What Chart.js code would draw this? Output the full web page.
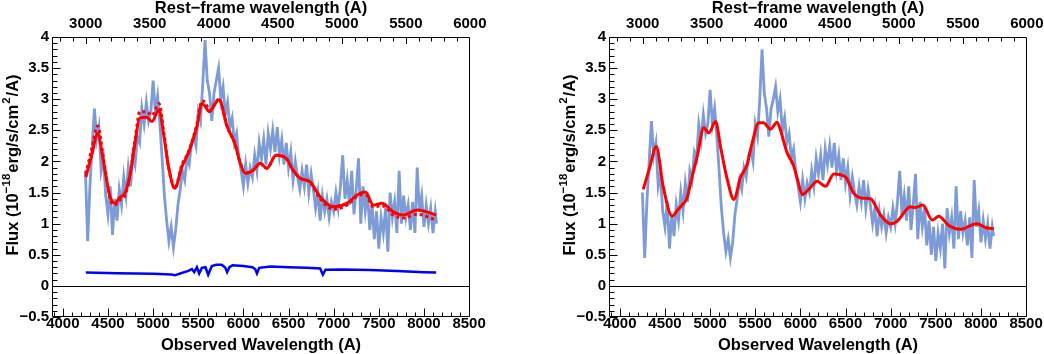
<!DOCTYPE html>
<html>
<head>
<meta charset="utf-8">
<script src="https://cdn.jsdelivr.net/npm/chart.js@4.4.1/dist/chart.umd.min.js"></script>
<style>
  html, body { margin: 0; padding: 0; background: #fff; }
  body { width: 1044px; height: 354px; position: relative; overflow: hidden; }
  canvas { position: absolute; top: 0; }
  #left { left: 0; }
  #right { left: 557px; }
</style>
</head>
<body>
<canvas id="left" width="500" height="354"></canvas>
<canvas id="right" width="500" height="354"></canvas>
<script>
// --- Data ---
const X_TICKS = [4000, 4500, 5000, 5500, 6000, 6500, 7000, 7500, 8000, 8500];
const REST_TICKS = [3000, 3500, 4000, 4500, 5000, 5500, 6000];
const Y_TICKS = [-0.5, 0, 0.5, 1, 1.5, 2, 2.5, 3, 3.5, 4];

const WAVE = [
  4250, 4275,
  4300, 4325, 4350, 4375, 4400, 4425, 4450, 4475, 4500, 4525, 4550, 4575,
  4600, 4625, 4650, 4675, 4700, 4725, 4750, 4775, 4800, 4825, 4850, 4875,
  4900, 4925, 4950, 4975, 5000, 5025, 5050, 5075, 5100, 5125, 5150, 5175,
  5200, 5225, 5250, 5275, 5300, 5325, 5350, 5375, 5400, 5425, 5450, 5475,
  5500, 5525, 5550, 5575, 5600, 5625, 5650, 5675, 5700, 5725, 5750, 5775,
  5800, 5825, 5850, 5875, 5900, 5925, 5950, 5975, 6000, 6025, 6050, 6075,
  6100, 6125, 6150, 6175, 6200, 6225, 6250, 6275, 6300, 6325, 6350, 6375,
  6400, 6425, 6450, 6475, 6500, 6525, 6550, 6575, 6600, 6625, 6650, 6675,
  6700, 6725, 6750, 6775, 6800, 6825, 6850, 6875, 6900, 6925, 6950, 6975,
  7000, 7025, 7050, 7075, 7100, 7125, 7150, 7175, 7200, 7225, 7250, 7275,
  7300, 7325, 7350, 7375, 7400, 7425, 7450, 7475, 7500, 7525, 7550, 7575,
  7600, 7625, 7650, 7675, 7700, 7725, 7750, 7775, 7800, 7825, 7850, 7875,
  7900, 7925, 7950, 7975, 8000, 8025, 8050, 8075, 8100, 8125, 8140
];

// observed spectrum (left panel)
const FLUX_OBS = [
  1.85, 0.72,
  1.6, 2.25, 2.85, 2.35, 2.55, 1.85, 2.05, 1.45, 1.15, 1.6, 0.82, 1.4,
  1.05, 1.55, 1.3, 1.75, 1.45, 1.9, 1.6, 2.1, 1.95, 2.4, 2.3, 2.85,
  2.6, 2.95, 2.65, 2.8, 3.3, 2.8, 3.05, 2.6, 2.05, 1.45, 1.05, 0.72,
  0.95, 0.62, 0.9, 1.3, 1.55, 1.85, 1.7, 2.05, 1.95, 2.3, 2.4, 2.25,
  2.8, 2.65, 3.25, 3.95, 3.3, 3.1, 2.65, 3.1, 3.3, 3.5, 3.0, 3.2,
  2.75, 2.95, 2.55, 2.7, 2.3, 2.45, 2.05, 1.85, 1.6, 1.95, 1.65, 1.9,
  1.75, 2.1, 1.85, 2.3, 2.05, 2.35, 1.95, 2.45, 2.2, 2.5, 2.15, 2.55,
  2.1, 2.35, 1.95, 2.3, 1.9, 2.15, 1.7, 2.0, 1.75, 1.55, 1.85, 1.6,
  1.95, 1.5, 1.8, 1.55, 1.25, 1.5, 1.05, 1.45, 1.2, 1.4, 1.1, 1.35,
  1.2, 1.5, 1.25, 1.6, 2.1, 1.4, 1.7, 1.3, 1.85, 1.15, 1.55, 2.05,
  1.0, 1.6, 1.2, 1.5, 0.9, 1.3, 0.75, 1.2, 0.6, 1.1, 0.85, 1.25,
  0.55, 1.5, 1.1, 1.35, 0.85, 1.85, 1.0, 1.45, 1.1, 1.3, 0.9, 1.35,
  0.85, 1.9, 1.2, 1.45, 0.95, 1.3, 1.0, 1.25, 0.85, 1.2, 1.0
];

// host-subtracted spectrum (right panel)
const FLUX_SUB = [
  1.5, 0.45,
  1.35, 2.0, 2.65, 2.1, 2.3, 1.6, 1.8, 1.2, 0.95, 1.35, 0.6, 1.15,
  0.8, 1.3, 1.05, 1.5, 1.2, 1.65, 1.35, 1.85, 1.7, 2.15, 2.05, 2.6,
  2.35, 2.75, 2.45, 2.6, 3.15, 2.6, 2.85, 2.4, 1.85, 1.25, 0.85, 0.55,
  0.75, 0.45, 0.7, 1.15, 1.4, 1.7, 1.55, 1.9, 1.75, 2.1, 2.2, 2.0,
  2.6, 2.4, 3.0, 3.8, 3.1, 2.85, 2.4, 2.85, 3.0, 3.2, 2.8, 3.0,
  2.5, 2.7, 2.3, 2.45, 2.05, 2.2, 1.8, 1.6, 1.35, 1.7, 1.4, 1.65,
  1.5, 1.85, 1.6, 2.05, 1.8, 2.1, 1.7, 2.2, 1.95, 2.25, 1.9, 2.3,
  1.85, 2.1, 1.7, 2.05, 1.65, 1.9, 1.45, 1.75, 1.5, 1.3, 1.6, 1.35,
  1.7, 1.25, 1.55, 1.3, 1.0, 1.25, 0.8, 1.2, 0.95, 1.15, 0.85, 1.1,
  0.95, 1.25, 1.0, 1.35, 1.85, 1.15, 1.45, 1.05, 1.6, 0.9, 1.3, 1.8,
  0.75, 1.35, 0.95, 1.25, 0.65, 1.05, 0.5, 0.95, 0.4, 0.85, 0.6, 1.0,
  0.28, 1.25, 0.85, 1.1, 0.6, 1.6, 0.75, 1.2, 0.85, 1.05, 0.65, 1.1,
  0.45, 1.7, 0.95, 1.2, 0.7, 1.05, 0.75, 1.0, 0.6, 0.95, 0.8
];

// fits, left panel (solid and dotted)
const FIT_WAVE_L = [4255, 4320, 4385, 4450, 4520, 4577, 4630, 4687, 4740, 4800, 4853, 4930, 4985, 5065, 5120, 5170,
  5240, 5320, 5390, 5485, 5540, 5580, 5620, 5730, 5820, 5905, 5960, 6020, 6110, 6185, 6260, 6360,
  6480, 6550, 6630, 6740, 6850, 7000, 7150, 7260, 7350, 7440, 7535, 7660, 7770, 7925, 8135];
const FIT_SOLID_L = [1.75, 2.1, 2.45, 2.0, 1.45, 1.33, 1.42, 1.49, 1.75, 2.3, 2.7, 2.71, 2.64, 2.83, 2.4, 1.92,
  1.57, 1.92, 2.13, 2.56, 2.93, 2.88, 2.8, 2.99, 2.56, 2.29, 2.0, 1.81, 1.86, 1.97, 1.89, 2.1,
  2.04, 1.86, 1.73, 1.67, 1.43, 1.27, 1.33, 1.46, 1.51, 1.3, 1.33, 1.19, 1.14, 1.22, 1.14];
const FIT_DOT_L = [1.8, 2.2, 2.57, 2.05, 1.42, 1.3, 1.38, 1.45, 1.75, 2.35, 2.8, 2.8, 2.74, 2.93, 2.45, 1.92,
  1.57, 1.95, 2.15, 2.6, 2.97, 2.95, 2.82, 3.0, 2.56, 2.29, 2.0, 1.81, 1.86, 1.97, 1.89, 2.1,
  2.04, 1.86, 1.73, 1.66, 1.4, 1.23, 1.3, 1.44, 1.47, 1.27, 1.29, 1.14, 1.09, 1.15, 1.06];

// fit, right panel
const FIT_WAVE_R = [4259, 4330, 4403, 4480, 4580, 4640, 4690, 4740, 4800, 4857, 4930, 4985, 5060, 5120, 5190, 5263,
  5336, 5410, 5466, 5540, 5590, 5670, 5743, 5780, 5850, 5920, 5970, 6020, 6093, 6186, 6278, 6370,
  6500, 6590, 6685, 6776, 6887, 6998, 7072, 7220, 7275, 7356, 7460, 7533, 7643, 7773, 7950, 8069, 8142];
const FIT_SOLID_R = [1.55, 1.9, 2.24, 1.6, 1.12, 1.22, 1.3, 1.4, 1.75, 2.08, 2.54, 2.46, 2.64, 2.2, 1.71, 1.39,
  1.74, 1.95, 2.3, 2.62, 2.62, 2.52, 2.63, 2.5, 2.15, 1.95, 1.7, 1.47, 1.55, 1.68, 1.6, 1.8,
  1.75, 1.49, 1.41, 1.4, 1.14, 1.0, 1.04, 1.27, 1.26, 1.3, 1.06, 1.12, 0.97, 0.91, 1.0, 0.93, 0.92];

// host galaxy template, left panel
const GAL_WAVE = [4255, 4600, 5000, 5200, 5240, 5300, 5390, 5430, 5455, 5485, 5510, 5540, 5580, 5610, 5650, 5700,
  5760, 5800, 5820, 5845, 5880, 6000, 6100, 6130, 6150, 6175, 6300, 6500, 6700, 6850, 6880, 6910,
  7100, 7400, 7700, 8000, 8135];
const GAL_FLUX = [0.215, 0.205, 0.195, 0.185, 0.17, 0.2, 0.24, 0.27, 0.22, 0.3, 0.2, 0.29, 0.3, 0.18, 0.32, 0.34,
  0.34, 0.29, 0.22, 0.3, 0.33, 0.32, 0.3, 0.27, 0.2, 0.29, 0.31, 0.3, 0.29, 0.28, 0.18, 0.26,
  0.265, 0.255, 0.24, 0.22, 0.215];

const X_MIN = 3880, X_MAX = 8510;
const ONE_PLUS_Z = 1.418;

Chart.defaults.font.family = '"Liberation Sans", Arial, Helvetica, sans-serif';
Chart.defaults.color = '#000';

const pts = (xs, ys) => xs.map((x, i) => ({ x, y: ys[i] }));
const tickFont = { size: 15, weight: 'bold' };

// frame, inward ticks, zero line and the y title
const axesPlugin = {
  id: 'rootAxes',
  beforeDatasetsDraw(chart) {
    const { ctx, chartArea: a, scales } = chart;
    const y0 = Math.round(scales.y.getPixelForValue(0)) + 0.5;
    ctx.save();
    ctx.strokeStyle = '#000';
    ctx.lineWidth = 1;
    ctx.beginPath();
    ctx.moveTo(a.left, y0);
    ctx.lineTo(a.right, y0);
    ctx.stroke();
    ctx.restore();
  },
  afterDraw(chart) {
    const { ctx, chartArea: a, scales } = chart;
    const L = Math.round(a.left) + 0.5, R = Math.round(a.right) - 0.5;
    const T = Math.round(a.top) + 0.5, B = Math.round(a.bottom) - 0.5;
    ctx.save();
    ctx.strokeStyle = '#000';
    ctx.lineWidth = 1;
    ctx.beginPath();
    ctx.moveTo(L, T); ctx.lineTo(R, T); ctx.lineTo(R, B); ctx.lineTo(L, B); ctx.closePath();
    // bottom axis
    for (let v = 3900; v <= 8500; v += 100) {
      const px = Math.round(scales.x.getPixelForValue(v)) + 0.5;
      const len = v % 500 === 0 ? 8 : 4;
      ctx.moveTo(px, B); ctx.lineTo(px, B - len);
    }
    // top axis (rest frame)
    for (let r = 2800; r <= 6000; r += 100) {
      const px = Math.round(scales.xTop.getPixelForValue(r)) + 0.5;
      if (px < a.left || px > a.right) continue;
      const len = r % 500 === 0 ? 6.5 : 4;
      ctx.moveTo(px, T); ctx.lineTo(px, T + len);
    }
    // left axis
    for (let i = -5; i <= 40; i++) {
      const py = Math.round(scales.y.getPixelForValue(i / 10)) + 0.5;
      const len = i % 5 === 0 ? 8 : 5;
      ctx.moveTo(L, py); ctx.lineTo(L + len, py);
    }
    ctx.stroke();

    // y title with superscripts
    const big = 'bold 16.5px "Liberation Sans", Arial, sans-serif';
    const sup = 'bold 11.5px "Liberation Sans", Arial, sans-serif';
    const parts = [
      ['Flux (10', big, 0, 0], ['\u221218', sup, -6, 1], ['erg/s/cm', big, 0, 1], ['2', sup, -6, 1], ['/A)', big, 0, 0]
    ];
    let total = 0;
    parts.forEach(p => { ctx.font = p[1]; total += ctx.measureText(p[0]).width + p[3]; });
    ctx.translate(13, 165);
    ctx.rotate(-Math.PI / 2);
    ctx.fillStyle = '#000';
    ctx.textBaseline = 'middle';
    ctx.textAlign = 'left';
    let cx = -total / 2;
    parts.forEach(p => {
      ctx.font = p[1];
      ctx.fillText(p[0], cx, p[2]);
      cx += ctx.measureText(p[0]).width + p[3];
    });
    ctx.restore();
  }
};

// keep the plot box fixed: no extra room for edge labels
const fixBox = (prop, size) => s => {
  s[prop] = size;
  s.paddingLeft = 0; s.paddingRight = 0; s.paddingTop = 0; s.paddingBottom = 0;
};

function makeChart(id, datasets) {
  return new Chart(document.getElementById(id), {
    type: 'line',
    data: { datasets },
    options: {
      responsive: false,
      animation: false,
      layout: { padding: { left: 0, right: 30, top: 0, bottom: 0 } },
      plugins: { legend: { display: false }, tooltip: { enabled: false } },
      elements: { point: { radius: 0 } },
      scales: {
        x: {
          type: 'linear', position: 'bottom', min: X_MIN, max: X_MAX,
          afterBuildTicks: s => { s.ticks = X_TICKS.map(v => ({ value: v })); },
          afterFit: fixBox('height', 37),
          grid: { display: false, drawTicks: false },
          border: { display: false },
          ticks: { font: tickFont, padding: -2, maxRotation: 0, autoSkip: false, callback: v => String(v) },
          title: { display: true, text: 'Observed Wavelength (A)', font: { size: 16.5, weight: 'bold', lineHeight: 1 }, padding: 0 }
        },
        xTop: {
          type: 'linear', position: 'top', min: X_MIN / ONE_PLUS_Z, max: X_MAX / ONE_PLUS_Z,
          afterBuildTicks: s => { s.ticks = REST_TICKS.map(v => ({ value: v })); },
          afterFit: fixBox('height', 37),
          grid: { display: false, drawTicks: false },
          border: { display: false },
          ticks: { font: tickFont, padding: 4, maxRotation: 0, autoSkip: false, callback: v => String(v) },
          title: { display: true, text: 'Rest\u2212frame wavelength (A)', font: { size: 16.5, weight: 'bold', lineHeight: 1 }, padding: 0 }
        },
        y: {
          type: 'linear', position: 'left', min: -0.5, max: 4,
          afterBuildTicks: s => { s.ticks = Y_TICKS.map(v => ({ value: v })); },
          afterFit: fixBox('width', 52),
          grid: { display: false, drawTicks: false },
          border: { display: false },
          ticks: { font: tickFont, padding: 3, autoSkip: false, callback: v => v < 0 ? '\u2212' + Math.abs(v) : String(v) }
        }
      }
    },
    plugins: [axesPlugin]
  });
}

const specStyle = { borderColor: '#7d9bd6', borderWidth: 2.8, tension: 0, fill: false };
const fitStyle = { borderColor: '#ff0000', borderWidth: 3, cubicInterpolationMode: 'monotone', fill: false };

makeChart('left', [
  { ...fitStyle, data: pts(FIT_WAVE_L, FIT_SOLID_L), order: 1 },
  { ...fitStyle, data: pts(FIT_WAVE_L, FIT_DOT_L), borderDash: [3, 3], order: 2 },
  { data: pts(GAL_WAVE, GAL_FLUX), borderColor: '#0000ff', borderWidth: 2.5, tension: 0, order: 3 },
  { ...specStyle, data: pts(WAVE, FLUX_OBS), order: 4 }
]);

makeChart('right', [
  { ...fitStyle, data: pts(FIT_WAVE_R, FIT_SOLID_R), order: 1 },
  { ...specStyle, data: pts(WAVE, FLUX_SUB), order: 4 }
]);
</script>
</body>
</html>
